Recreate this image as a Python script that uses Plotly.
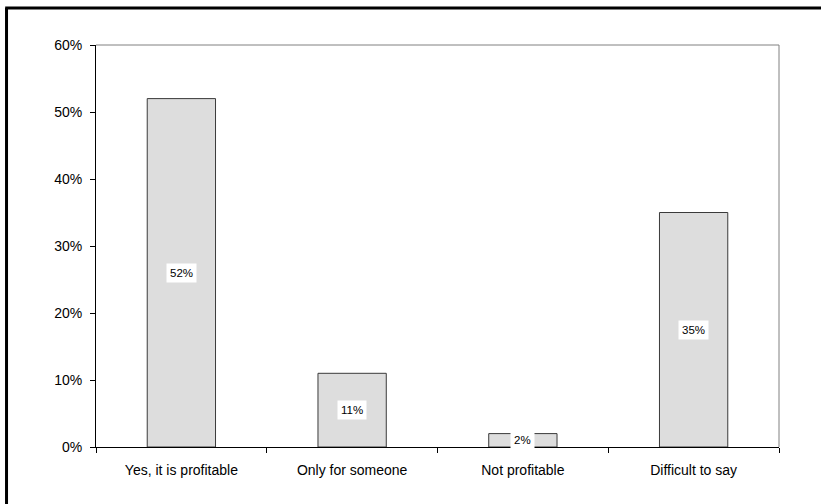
import plotly.graph_objects as go

# Survey answers and their shares (percent)
categories = ["Yes, it is profitable", "Only for someone", "Not profitable", "Difficult to say"]
shares = [52, 11, 2, 35]
y_ticks = [0, 10, 20, 30, 40, 50, 60]
y_tick_text = [f"{v}%" for v in y_ticks]

FONT = "Liberation Sans, Arial, sans-serif"

fig = go.Figure(
    go.Bar(
        x=categories,
        y=shares,
        marker=dict(color="#dddddd", line=dict(color="#3a3a3a", width=1)),
        width=0.4,
        hoverinfo="skip",
    )
)

# Value labels centred in each bar on a white box
for cat, val in zip(categories, shares):
    fig.add_annotation(
        x=cat, y=val / 2, text=f"{val}%", showarrow=False,
        font=dict(family=FONT, size=11.5, color="#000000"),
        bgcolor="#ffffff", borderpad=3,
    )

# Grey top/right frame of the plot area
fig.add_shape(type="line", xref="paper", yref="paper", x0=0, x1=1, y0=1, y1=1,
              line=dict(color="#808080", width=1))
fig.add_shape(type="line", xref="paper", yref="paper", x0=1, x1=1, y0=0, y1=1,
              line=dict(color="#808080", width=1))

# Heavy black outer frame (left and top edges run off the page on the other sides)
fig.add_shape(type="line", xref="paper", yref="paper",
              x0=-0.131, x1=-0.131, y0=-0.3, y1=1.092,
              line=dict(color="#000000", width=3), layer="above")
fig.add_shape(type="line", xref="paper", yref="paper",
              x0=-0.133, x1=1.2, y0=1.092, y1=1.092,
              line=dict(color="#000000", width=3), layer="above")

fig.update_layout(
    width=821, height=504,
    margin=dict(l=96, r=42, t=45, b=57),
    paper_bgcolor="#ffffff", plot_bgcolor="#ffffff",
    showlegend=False,
    font=dict(family=FONT, size=14, color="#000000"),
    xaxis=dict(
        type="category", tickson="boundaries", ticks="outside", ticklen=5,
        tickcolor="#000000", showline=True, linecolor="#000000", linewidth=1,
        showgrid=False, ticklabelstandoff=10,
        tickfont=dict(family=FONT, size=14, color="#000000"),
    ),
    yaxis=dict(
        range=[0, 60], tickvals=y_ticks, ticktext=y_tick_text,
        ticks="outside", ticklen=5, tickcolor="#000000",
        showline=True, linecolor="#000000", linewidth=1,
        showgrid=False, zeroline=False, ticklabelstandoff=5,
        tickfont=dict(family=FONT, size=14, color="#000000"),
    ),
)

fig.write_html("out.html", config={"displayModeBar": False})
